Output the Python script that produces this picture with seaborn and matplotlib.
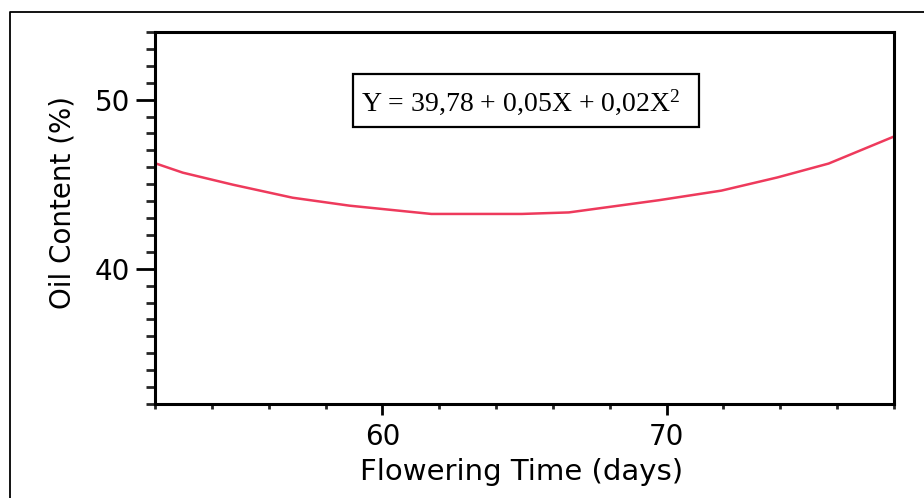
import matplotlib
matplotlib.use("Agg")
import matplotlib.pyplot as plt
import seaborn as sns
import pandas as pd
from matplotlib.ticker import MultipleLocator
from matplotlib.patches import Rectangle
from matplotlib.lines import Line2D

# ---- data ----
flowering_days = [52.0, 52.98, 54.74, 56.84, 58.84, 60.95, 61.72, 64.91, 66.56, 69.72, 71.93, 73.9, 75.7, 77.9, 78.0]
oil_content = [46.24, 45.68, 44.97, 44.20, 43.73, 43.37, 43.24, 43.24, 43.33, 44.05, 44.62, 45.40, 46.22, 47.75, 47.82]
equation_text = "Y = 39,78 + 0,05X + 0,02X$^{2}$"
x_label = "Flowering Time (days)"
y_label = "Oil Content (%)"

df = pd.DataFrame({"days": flowering_days, "oil": oil_content})

sns.set_style("ticks")
plt.rcParams["font.family"] = ["DejaVu Sans"]
plt.rcParams["mathtext.fontset"] = "custom"
plt.rcParams["mathtext.rm"] = "Liberation Serif"
plt.rcParams["mathtext.it"] = "Liberation Serif"

fig = plt.figure(figsize=(9.24, 4.98), dpi=100)
W, H = 924, 498
ax = fig.add_axes([155 / W, 1 - 404 / H, (894 - 155) / W, (404 - 32) / H])

sns.lineplot(data=df, x="days", y="oil", ax=ax, color="#EE3A5C", linewidth=1.8)

ax.set_xlim(52, 78)
ax.set_ylim(32, 54)
ax.xaxis.set_major_locator(MultipleLocator(10))
ax.xaxis.set_minor_locator(MultipleLocator(2))
ax.yaxis.set_major_locator(MultipleLocator(10))
ax.yaxis.set_minor_locator(MultipleLocator(1))

for s in ax.spines.values():
    s.set_visible(True)
    s.set_linewidth(2.2)
    s.set_color("black")

ax.tick_params(axis="y", which="major", length=14, width=2.0, direction="out", labelsize=20, pad=4, colors="black")
ax.tick_params(axis="y", which="minor", length=6.5, width=2.0, direction="out")
ax.tick_params(axis="x", which="major", length=8, width=2.0, direction="out", labelsize=20, pad=6, colors="black")
ax.tick_params(axis="x", which="minor", length=3.5, width=2.0, direction="out")

ax.set_xlabel(x_label, fontsize=21, color="black")
ax.set_ylabel(y_label, fontsize=20, color="black")
ax.xaxis.set_label_coords((522 - 155) / 739, (404 - 458) / 372)
ax.yaxis.set_label_coords((76 - 155) / 739, 0.5417)

# equation box
ax.add_patch(Rectangle(((353 - 155) / 739, (404 - 127) / 372), (699 - 353) / 739, (127 - 74) / 372,
                       transform=ax.transAxes, fill=False, edgecolor="black", linewidth=1.6, zorder=5))
ax.text((520.5 - 155) / 739, (404 - 110.7) / 372, equation_text, transform=ax.transAxes,
        ha="center", va="baseline", fontsize=20, family=["Liberation Serif", "DejaVu Serif"], color="black")

# outer border
fig.add_artist(Line2D([10 / W, 10 / W, 1.0], [0.0, 1 - 12.5 / H, 1 - 12.5 / H],
                      transform=fig.transFigure, color="black", linewidth=1.3))

fig.savefig("out.png", dpi=100)
